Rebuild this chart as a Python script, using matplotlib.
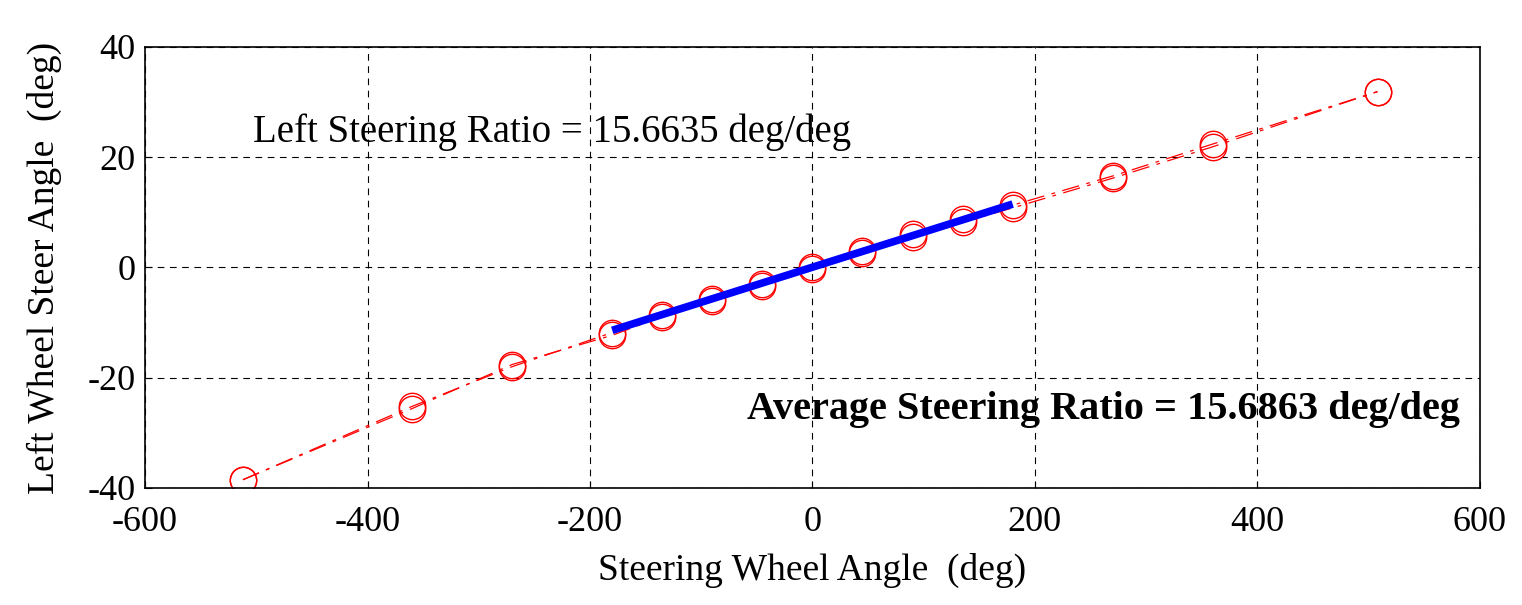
import matplotlib
matplotlib.use("Agg")
import matplotlib.pyplot as plt
import numpy as np

plt.rcParams['font.family'] = ['Liberation Serif', 'DejaVu Serif']
plt.rcParams['axes.unicode_minus'] = False

# steering wheel angle (deg) and left wheel steer angle (deg), two runs
sw_angle = [-512, -360, -270, -180, -135, -90, -45, 0, 45, 90, 135, 180, 270, 360, 508]
wheel_run1 = [-38.5, -25.2, -18.0, -11.8, -8.6, -5.8, -3.0, -0.2, 2.6, 5.6, 8.2, 10.8, 16.2, 21.9, 31.9]
wheel_run2 = [-38.5, -25.6, -17.6, -12.3, -8.9, -6.1, -3.3, 0.1, 2.9, 6.1, 8.8, 11.3, 16.6, 22.4, 31.9]

# linear fit over +/-180 deg
fit_x = [-180, 180]
fit_y = [-11.4, 11.5]

fig = plt.figure(figsize=(15.22, 6.05), dpi=100)
ax = fig.add_axes([0.0953, 0.1934, 0.877, 0.729])

for run in (wheel_run1, wheel_run2):
    ax.plot(sw_angle, run, color='red', linestyle='-.', linewidth=0.9,
            marker='o', markersize=19, markerfacecolor='none',
            markeredgecolor='red', markeredgewidth=1.0, dashes=(14, 6, 3, 6))
ax.plot(fit_x, fit_y, color='blue', linewidth=5.5, solid_capstyle='butt')

ax.set_xlim(-600, 600)
ax.set_ylim(-40, 40)
ax.set_xticks(np.arange(-600, 601, 200))
ax.set_yticks(np.arange(-40, 41, 20))
ax.grid(True, color='black', linestyle=(0, (6, 5)), linewidth=0.8)
ax.tick_params(direction='in', labelsize=26, length=5)
ax.tick_params(axis='x', pad=13)
ax.tick_params(axis='y', pad=7)
for s in ax.spines.values():
    s.set_linewidth(1.2)

ax.set_xlabel('Steering Wheel Angle  (deg)', fontsize=27, labelpad=10)
ax.set_ylabel('Left Wheel Steer Angle  (deg)', fontsize=27, labelpad=18)

ax.text(-503, 24.5, 'Left Steering Ratio = 15.6635 deg/deg', fontsize=28,
        ha='left', va='center')
ax.text(582, -25.8, 'Average Steering Ratio = 15.6863 deg/deg', fontsize=29,
        fontweight='bold', ha='right', va='center')

fig.savefig('out.png', dpi=100)
